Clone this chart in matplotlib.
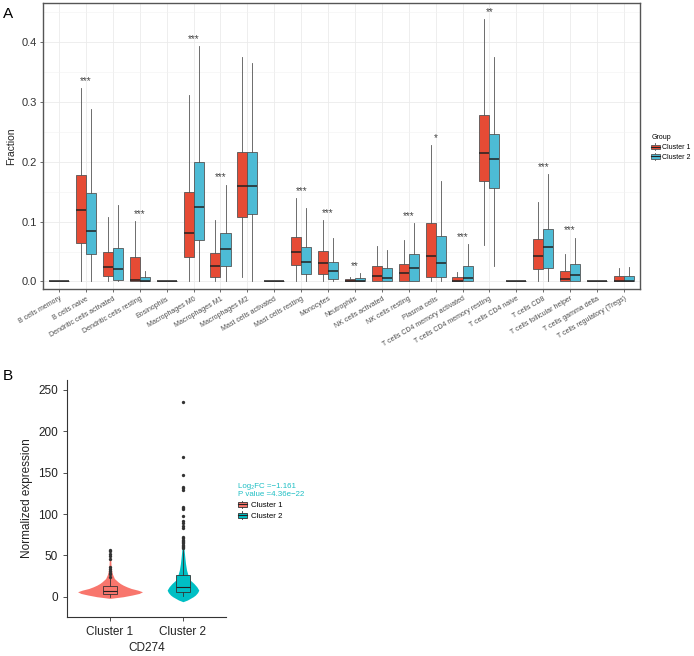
import numpy as np
import matplotlib
matplotlib.use('Agg')
import matplotlib.pyplot as plt
from matplotlib.patches import Rectangle
from matplotlib.lines import Line2D
from matplotlib.legend_handler import HandlerBase
from matplotlib.ticker import MultipleLocator

plt.rcParams['font.family'] = ['Liberation Sans', 'DejaVu Sans']

## Panel A : immune cell fractions ##
cells = ['B cells memory', 'B cells naive', 'Dendritic cells activated', 'Dendritic cells resting',
         'Eosinophils', 'Macrophages M0', 'Macrophages M1', 'Macrophages M2', 'Mast cells activated',
         'Mast cells resting', 'Monocytes', 'Neutrophils', 'NK cells activated', 'NK cells resting',
         'Plasma cells', 'T cells CD4 memory activated', 'T cells CD4 memory resting', 'T cells CD4 naive',
         'T cells CD8', 'T cells follicular helper', 'T cells gamma delta', 'T cells regulatory (Tregs)']

c1_lo = [0, 0, 0, 0, 0, 0, 0, 0.007, 0, 0, 0, 0, 0, 0, 0, 0, 0.061, 0, 0, 0, 0, 0]
c1_q1 = [0, 0.065, 0.0095, 0, 0, 0.040, 0.008, 0.107, 0, 0.027, 0.013, 0, 0, 0, 0.008, 0, 0.168, 0, 0.021, 0, 0, 0]
c1_med = [0, 0.119, 0.0245, 0.003, 0, 0.081, 0.025, 0.160, 0, 0.049, 0.030, 0.001, 0.009, 0.014, 0.042, 0, 0.215, 0, 0.042, 0.0045, 0, 0]
c1_q3 = [0, 0.178, 0.049, 0.041, 0, 0.149, 0.047, 0.216, 0, 0.074, 0.051, 0.004, 0.025, 0.029, 0.097, 0.007, 0.278, 0, 0.071, 0.018, 0, 0.009]
c1_hi = [0, 0.323, 0.107, 0.101, 0, 0.311, 0.102, 0.376, 0, 0.139, 0.103, 0.007, 0.059, 0.070, 0.228, 0.016, 0.439, 0, 0.132, 0.046, 0, 0.022]

c2_lo = [0, 0, 0, 0, 0, 0, 0, 0, 0, 0, 0, 0, 0, 0, 0, 0, 0.025, 0, 0, 0, 0, 0]
c2_q1 = [0, 0.046, 0.003, 0, 0, 0.070, 0.025, 0.113, 0, 0.013, 0.0045, 0, 0, 0, 0.007, 0, 0.157, 0, 0.023, 0, 0, 0]
c2_med = [0, 0.085, 0.021, 0, 0, 0.125, 0.055, 0.160, 0, 0.032, 0.018, 0.0005, 0.005, 0.022, 0.031, 0.0056, 0.204, 0, 0.057, 0.011, 0, 0.0005]
c2_q3 = [0, 0.148, 0.056, 0.008, 0, 0.200, 0.081, 0.216, 0, 0.057, 0.032, 0.0056, 0.023, 0.046, 0.076, 0.025, 0.246, 0, 0.088, 0.029, 0, 0.0095]
c2_hi = [0, 0.289, 0.127, 0.018, 0, 0.394, 0.162, 0.366, 0, 0.122, 0.073, 0.014, 0.053, 0.097, 0.168, 0.062, 0.376, 0, 0.180, 0.073, 0, 0.024]

stars = ['', '***', '', '***', '', '***', '***', '', '', '***', '***', '**', '', '***', '*', '***', '**', '',
         '***', '***', '', '']

groups = ['Cluster 1', 'Cluster 2']
group_colors = ['#E64B35', '#4DBBD5']

## Panel B : CD274 expression ##
b_groups = ['Cluster 1', 'Cluster 2']
b_colors = ['#F8766D', '#00BFC4']
b_lo = [0.0, 0.5]
b_q1 = [3.5, 5.2]
b_med = [7.5, 12.0]
b_q3 = [12.7, 26.0]
b_hi = [22.5, 57.0]
b_out1 = [24, 27, 29, 31.6, 34, 36, 46, 49, 52, 55, 57]
b_out2 = [58.5, 60, 61.5, 63, 64.5, 66, 67.5, 69, 70.5, 72, 83, 86, 89.4, 91.4, 97.5, 105.6, 107, 108.7,
          128.5, 131, 133, 147, 168.7, 235]
# violin outline (value, half width)
v1_y = [-2, 0, 2, 4, 6, 8, 10, 12, 14, 16, 18, 22, 28, 36, 48, 58]
v1_w = [0, 0.18, 0.30, 0.40, 0.445, 0.38, 0.29, 0.23, 0.18, 0.14, 0.11, 0.06, 0.03, 0.015, 0.008, 0]
v2_y = [-6, -4, -2, 0, 2, 5, 8, 12, 16, 20, 26, 32, 40, 48, 56, 64, 72]
v2_w = [0, 0.06, 0.10, 0.14, 0.17, 0.20, 0.217, 0.19, 0.15, 0.10, 0.07, 0.05, 0.035, 0.025, 0.016, 0.008, 0]
b_title = 'Log\u2082FC =\u22121.161\nP value =4.36e\u221222'


class BoxKey(HandlerBase):
    # legend key drawn like a small boxplot
    def create_artists(self, legend, orig_handle, xdescent, ydescent, width, height, fontsize, trans):
        fc = orig_handle.get_facecolor()
        ec = orig_handle.get_edgecolor()
        x0, y0 = -xdescent, -ydescent
        cx = x0 + width / 2
        r = Rectangle((x0, y0 + height * 0.18), width, height * 0.64, facecolor=fc, edgecolor=ec,
                      lw=0.6, transform=trans)
        m = Line2D([x0, x0 + width], [y0 + height / 2] * 2, color='#222222', lw=0.8, transform=trans)
        w1 = Line2D([cx, cx], [y0, y0 + height * 0.18], color=ec, lw=0.6, transform=trans)
        w2 = Line2D([cx, cx], [y0 + height * 0.82, y0 + height], color=ec, lw=0.6, transform=trans)
        return [w1, w2, r, m]


fig = plt.figure(figsize=(6.94, 6.56), dpi=100)

# ---- A ----
ax = fig.add_axes([43 / 694, 1 - 289 / 656, 597 / 694, 286 / 656])
n = len(cells)
pos = np.arange(n)
offs = [-0.1875, 0.1875]
series = [(c1_lo, c1_q1, c1_med, c1_q3, c1_hi), (c2_lo, c2_q1, c2_med, c2_q3, c2_hi)]
for k, (lo, q1, med, q3, hi) in enumerate(series):
    stats = [dict(whislo=lo[i], q1=q1[i], med=med[i], q3=q3[i], whishi=hi[i], fliers=[]) for i in range(n)]
    ax.bxp(stats, positions=pos + offs[k], widths=0.375, patch_artist=True, showfliers=False,
           showcaps=False, manage_ticks=False,
           boxprops=dict(facecolor=group_colors[k], edgecolor='#555555', lw=0.6),
           medianprops=dict(color='#222222', lw=1.1),
           whiskerprops=dict(color='#555555', lw=0.6))

for i in range(n):
    if stars[i]:
        ax.text(pos[i], max(c1_hi[i], c2_hi[i]) + 0.007, stars[i], ha='center', va='baseline',
                fontsize=7, color='#444444')

ax.set_xlim(-0.6, n - 0.4)
ax.set_ylim(-0.0127, 0.4656)
ax.set_xticks(pos)
ax.set_xticklabels(cells, rotation=30, ha='right', rotation_mode='anchor', fontsize=5, color='#4D4D4D')
ax.set_yticks([0, 0.1, 0.2, 0.3, 0.4])
ax.set_yticklabels(['0.0', '0.1', '0.2', '0.3', '0.4'], fontsize=8, color='#333333')
ax.yaxis.set_minor_locator(MultipleLocator(0.05))
ax.tick_params(which='minor', length=0)
ax.tick_params(which='major', length=2.5, width=0.6, color='#555555', pad=2)
ax.set_axisbelow(True)
ax.grid(which='major', color='#EBEBEB', lw=0.6)
ax.grid(which='minor', axis='y', color='#F2F2F2', lw=0.4)
for s in ax.spines.values():
    s.set_color('#555555')
    s.set_linewidth(1.0)
ax.set_ylabel('Fraction', fontsize=7.5, color='#222222', labelpad=4)

handles = [Rectangle((0, 0), 1, 1, facecolor=c, edgecolor='#555555') for c in group_colors]
leg = ax.legend(handles, groups, title='Group', loc='upper left', bbox_to_anchor=(645 / 694, 1 - 128 / 656),
                bbox_transform=fig.transFigure, frameon=False, fontsize=5, title_fontsize=5,
                handlelength=1.2, handleheight=1.1, handletextpad=0.4, labelspacing=0.3,
                alignment='left', handler_map={Rectangle: BoxKey()})

fig.text(3 / 694, 1 - 18 / 656, 'A', fontsize=11, va='baseline')

# ---- B ----
ax2 = fig.add_axes([67 / 694, 1 - 617 / 656, 159 / 694, 237 / 656])
vy = [v1_y, v2_y]
vw = [v1_w, v2_w]
for k in range(2):
    w = np.array(vw[k])
    ax2.fill_betweenx(vy[k], k + 1 - w, k + 1 + w, color=b_colors[k], lw=0, zorder=1)

outs = [b_out1, b_out2]
bstats = [dict(whislo=b_lo[k], q1=b_q1[k], med=b_med[k], q3=b_q3[k], whishi=b_hi[k], fliers=outs[k])
          for k in range(2)]
bp = ax2.bxp(bstats, positions=[1, 2], widths=0.2, patch_artist=True, showcaps=False, manage_ticks=False,
             boxprops=dict(edgecolor='#333333', lw=0.6),
             medianprops=dict(color='#222222', lw=0.8),
             whiskerprops=dict(color='#333333', lw=0.6),
             flierprops=dict(marker='o', markersize=2.4, markerfacecolor='#333333', markeredgecolor='none'))
for patch, c in zip(bp['boxes'], b_colors):
    patch.set_facecolor(c)
    patch.set_zorder(2)

ax2.set_xlim(0.41, 2.59)
ax2.set_ylim(-24.5, 262)
ax2.set_xticks([1, 2])
ax2.set_xticklabels(b_groups, fontsize=8.5, color='#222222')
ax2.set_yticks([0, 50, 100, 150, 200, 250])
ax2.tick_params(labelsize=8.5, labelcolor='#222222', length=3, width=0.6, color='#333333')
ax2.spines['top'].set_visible(False)
ax2.spines['right'].set_visible(False)
for s in ['left', 'bottom']:
    ax2.spines[s].set_color('#333333')
    ax2.spines[s].set_linewidth(0.8)
ax2.set_ylabel('Normalized expression', fontsize=8.5, color='#222222')
ax2.set_xlabel('CD274', fontsize=8.5, color='#222222', labelpad=3)

bh = [Rectangle((0, 0), 1, 1, facecolor=c, edgecolor='#333333') for c in b_colors]
leg2 = ax2.legend(bh, b_groups, title=b_title, loc='upper left', bbox_to_anchor=(231 / 694, 1 - 476 / 656),
                  bbox_transform=fig.transFigure, frameon=False, fontsize=5.7, title_fontsize=5.7,
                  handlelength=1.1, handleheight=1.1, handletextpad=0.5, labelspacing=0.3,
                  alignment='left', handler_map={Rectangle: BoxKey()})
leg2.get_title().set_color('#1FBFC4')

fig.text(3 / 694, 1 - 380 / 656, 'B', fontsize=11, va='baseline')

fig.savefig('out.png', dpi=100)
